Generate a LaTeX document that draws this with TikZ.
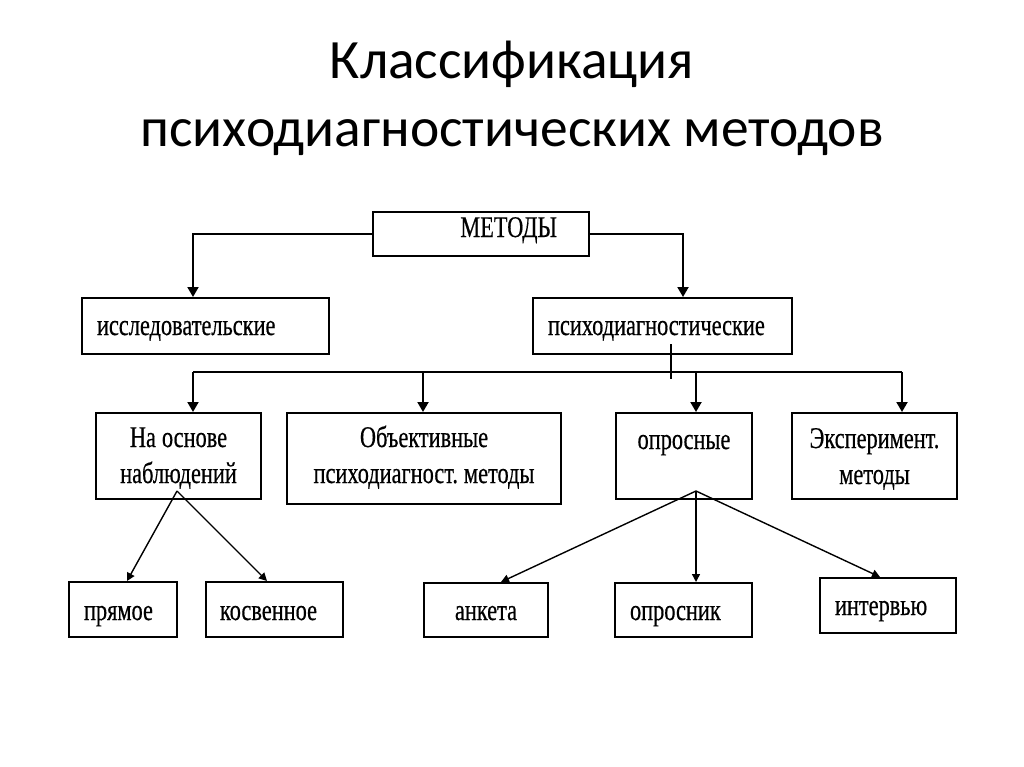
\documentclass[tikz,border=0pt]{standalone}
\usepackage{fontspec}
\setmainfont{Liberation Serif}
\newfontfamily\titlefont{Carlito}
\newfontfamily\diagfont[FakeStretch=0.745,FakeBold=0.5]{Liberation Serif}
\usetikzlibrary{arrows.meta}

\begin{document}
\begin{tikzpicture}[x=1pt,y=-1pt,
  box/.style={draw, line width=2pt, inner sep=0pt, align=center,
    font=\diagfont\fontsize{30}{36}\selectfont,
    execute at begin node={\frenchspacing\spaceskip=6pt\relax}},
  conn/.style={line width=2pt},
  arr/.style={line width=2pt, -{Triangle[width=11pt,length=10pt]}},
  tarr/.style={line width=1.4pt, -{Triangle[width=8pt,length=8pt]}},
  ttl/.style={anchor=base, inner sep=0pt, font=\titlefont\fontsize{55.5}{60}\selectfont},
]
\path[use as bounding box, fill=white] (0,0) rectangle (1024,767);

% title
\node[ttl] (t1) at (512,79) {Классификация};
\node[ttl] (t2) at (512,147) {психодиагностических методов};

% level 1
\node[box, minimum width=216pt, minimum height=44pt, text width=152pt, align=right,
  text height=20pt, text depth=14pt] (met) at (481,234) {МЕТОДЫ};

% level 2
\node[box, minimum width=247pt, minimum height=56pt, text width=217pt, align=left,
  text height=24pt, text depth=6pt] (issl) at (205.5,326) {исследовательские};
\node[box, minimum width=259pt, minimum height=56pt, text width=229pt, align=left,
  text height=24pt, text depth=6pt] (psy) at (662.5,326) {психодиагностические};

% level 3
\node[box, minimum width=165pt, minimum height=86pt, text width=165pt,
  text height=22pt, text depth=40pt] (nab) at (178.5,456) {На основе\\наблюдений};
\node[box, minimum width=274pt, minimum height=91pt, text width=274pt,
  text height=20pt, text depth=43pt] (obj) at (424,458.5) {Объективные\\психодиагност. методы};
\node[box, minimum width=136pt, minimum height=86pt, text width=136pt,
  text height=10pt, text depth=24pt] (opr) at (684,456) {опросные};
\node[box, minimum width=165pt, minimum height=86pt, text width=165pt,
  text height=24pt, text depth=40pt] (exp) at (874.5,456) {Эксперимент.\\методы};

% level 4
\node[box, minimum width=108pt, minimum height=55pt, text width=78pt, align=left,
  text height=27pt, text depth=6pt] (pry) at (123,609.5) {прямое};
\node[box, minimum width=137pt, minimum height=55pt, text width=109pt, align=left,
  text height=27pt, text depth=6pt] (kos) at (274.5,609.5) {косвенное};
\node[box, minimum width=124pt, minimum height=54pt, text width=124pt,
  text height=26pt, text depth=6pt] (ank) at (486,610) {анкета};
\node[box, minimum width=137pt, minimum height=54pt, text width=107pt, align=left,
  text height=26pt, text depth=6pt] (ops) at (683.5,610) {опросник};
\node[box, minimum width=136pt, minimum height=55pt, text width=106pt, align=left,
  text height=25pt, text depth=6pt] (int) at (888,605.5) {интервью};

% connectors from МЕТОДЫ
\draw[arr] (met.west) -| ([xshift=-12.5pt]issl.north);
\draw[arr] (met.east) -| ([xshift=20.5pt]psy.north);

% bus
\coordinate (bus) at (0,372);
\coordinate (nabIn) at ([xshift=14.5pt]nab.north);
\coordinate (objIn) at ([xshift=-1pt]obj.north);
\coordinate (oprIn) at ([xshift=12pt]opr.north);
\coordinate (expIn) at ([xshift=27.5pt]exp.north);
\draw[conn] ([xshift=8.5pt,yshift=11pt]psy.south) -- ++(0,35);
\draw[conn] (nabIn |- bus) -- (expIn |- bus);
\draw[arr] (nabIn |- bus) -- (nabIn);
\draw[arr] (objIn |- bus) -- (objIn);
\draw[arr] (oprIn |- bus) -- (oprIn);
\draw[arr] (expIn |- bus) -- (expIn);

% lower branches
\coordinate (nabApex) at ([xshift=-1.5pt,yshift=9pt]nab.south);
\coordinate (oprApex) at ([xshift=12pt,yshift=9pt]opr.south);
\draw[tarr] (nabApex) -- ([xshift=4pt]pry.north);
\draw[tarr] (nabApex) -- ([xshift=-7.5pt]kos.north);
\draw[tarr] (oprApex) -- ([xshift=15pt]ank.north);
\draw[tarr] (oprApex) -- ([xshift=12.5pt]ops.north);
\draw[tarr] (oprApex) -- ([xshift=-8pt]int.north);
\end{tikzpicture}
\end{document}
